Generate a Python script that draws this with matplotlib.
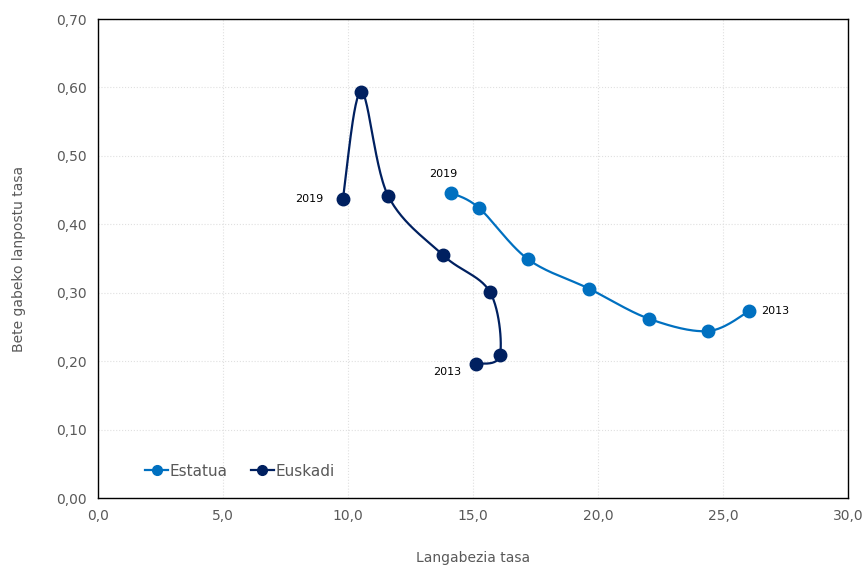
import numpy as np
import matplotlib.pyplot as plt
from matplotlib.ticker import FuncFormatter

# Langabezia tasa (x) eta bete gabeko lanpostu tasa (y), 2013 -> 2019
estatua_x = [26.04, 24.4, 22.04, 19.64, 17.2, 15.24, 14.12]
estatua_y = [0.273, 0.244, 0.262, 0.306, 0.349, 0.424, 0.446]
euskadi_x = [15.12, 16.08, 15.68, 13.8, 11.6, 10.52, 9.8]
euskadi_y = [0.196, 0.209, 0.301, 0.355, 0.442, 0.594, 0.437]

c_estatua = '#0070C0'
c_euskadi = '#002060'


def smooth(x, y, n=30):
    # Excel-en antzeko kurba leuna (Catmull-Rom)
    p = np.column_stack([x, y]).astype(float)
    p = np.vstack([p[0], p, p[-1]])
    out = []
    t = np.linspace(0, 1, n)[:, None]
    for i in range(1, len(p) - 2):
        p0, p1, p2, p3 = p[i - 1], p[i], p[i + 1], p[i + 2]
        c1 = p1 + (p2 - p0) / 6
        c2 = p2 - (p3 - p1) / 6
        seg = ((1 - t) ** 3) * p1 + 3 * ((1 - t) ** 2) * t * c1 + 3 * (1 - t) * t ** 2 * c2 + t ** 3 * p2
        out.append(seg)
    s = np.vstack(out)
    return s[:, 0], s[:, 1]


fig = plt.figure(figsize=(8.64, 5.66), dpi=100)
ax = fig.add_axes([0.1134, 0.120, 0.8681, 0.8464])

for xs, ys, col, lab in [(estatua_x, estatua_y, c_estatua, 'Estatua'),
                          (euskadi_x, euskadi_y, c_euskadi, 'Euskadi')]:
    sx, sy = smooth(xs, ys)
    ax.plot(sx, sy, color=col, lw=1.6, zorder=3)
    ax.plot(xs, ys, 'o', color=col, ms=9, zorder=4)
    ax.plot([], [], '-o', color=col, lw=1.6, ms=7, label=lab)

# urte etiketak
ax.text(euskadi_x[-1] - 0.8, euskadi_y[-1], '2019', ha='right', va='center', fontsize=8)
ax.text(euskadi_x[0] - 0.6, euskadi_y[0] - 0.012, '2013', ha='right', va='center', fontsize=8)
ax.text(estatua_x[-1] - 0.3, estatua_y[-1] + 0.028, '2019', ha='center', va='center', fontsize=8)
ax.text(estatua_x[0] + 0.5, estatua_y[0], '2013', ha='left', va='center', fontsize=8)

ax.set_xlim(0, 30)
ax.set_ylim(0, 0.70)
ax.set_xticks(np.arange(0, 30.1, 5))
ax.set_yticks(np.arange(0, 0.701, 0.1))
ax.xaxis.set_major_formatter(FuncFormatter(lambda v, p: f'{v:.1f}'.replace('.', ',')))
ax.yaxis.set_major_formatter(FuncFormatter(lambda v, p: f'{v:.2f}'.replace('.', ',')))
ax.tick_params(length=0, labelsize=10, colors='#595959', pad=8)
ax.grid(True, color='#e0e0e0', ls=':', lw=0.8)
ax.set_axisbelow(True)
for s in ax.spines.values():
    s.set_color('black')
    s.set_linewidth(1.0)

ax.set_xlabel('Langabezia tasa', fontsize=10, color='#595959', labelpad=20)
ax.set_ylabel('Bete gabeko lanpostu tasa', fontsize=10, color='#595959', labelpad=22)

ax.legend(loc='lower left', bbox_to_anchor=(0.045, 0.012), ncol=2, frameon=False,
          fontsize=11, handlelength=1.5, handletextpad=0.1, columnspacing=1.5,
          labelcolor='#595959')

fig.savefig('out.png', dpi=100)
